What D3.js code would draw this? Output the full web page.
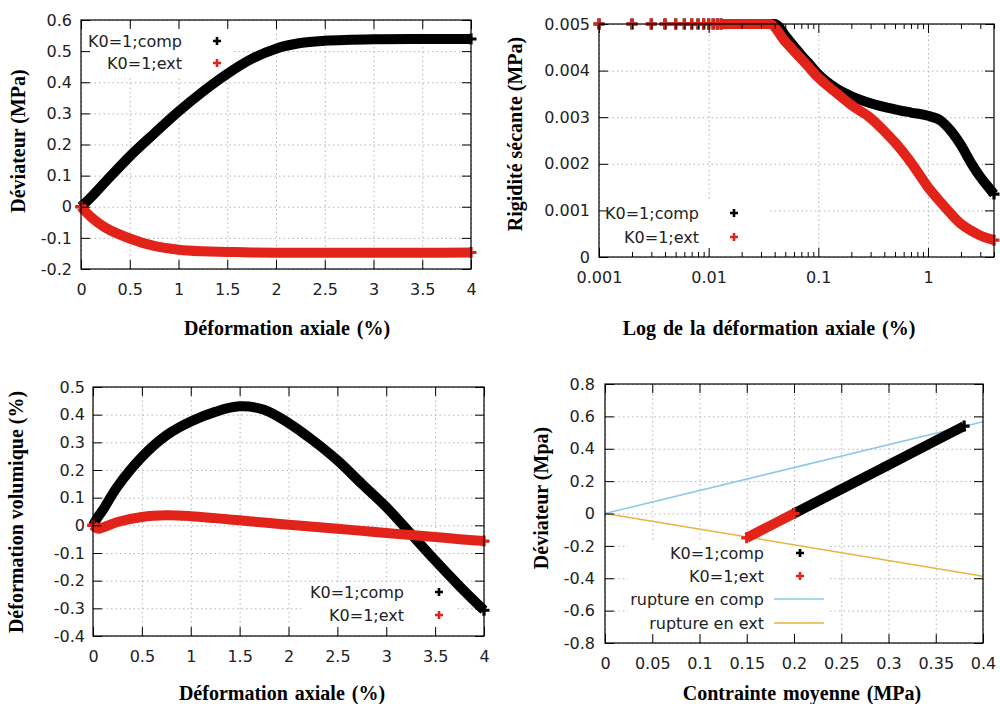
<!DOCTYPE html>
<html><head><meta charset="utf-8">
<script src="https://cdn.jsdelivr.net/npm/d3@7"></script>
<style>body{margin:0;background:#fff} svg{display:block}</style>
</head><body><svg id="c" width="1000" height="704"></svg>
<script>
// ---------- DATA ----------
// Panel 1 : Déviateur vs déformation axiale
const devStrain = [0, 0.1, 0.25, 0.5, 0.75, 1, 1.25, 1.5, 1.75, 2, 2.25, 2.5, 3, 3.5, 4];
const devComp   = [0, 0.03, 0.08, 0.162, 0.235, 0.306, 0.37, 0.427, 0.475, 0.508, 0.526, 0.533, 0.538, 0.539, 0.539];
const devExt    = [0, -0.032, -0.067, -0.102, -0.126, -0.138, -0.143, -0.145, -0.147, -0.148, -0.148, -0.148, -0.148, -0.148, -0.147];
const devXTicks = [0, 0.5, 1, 1.5, 2, 2.5, 3, 3.5, 4];
const devXLabels = ["0", "0.5", "1", "1.5", "2", "2.5", "3", "3.5", "4"];
const devYTicks = [-0.2, -0.1, 0, 0.1, 0.2, 0.3, 0.4, 0.5, 0.6];
const devYLabels = ["-0.2", "-0.1", "0", "0.1", "0.2", "0.3", "0.4", "0.5", "0.6"];

// Panel 2 : Rigidité sécante vs log déformation axiale
const stiffSparseStrain = [0.001, 0.002, 0.003, 0.004, 0.005, 0.006, 0.007, 0.008, 0.009, 0.01, 0.011, 0.012];
const stiffSparse       = [0.005, 0.005, 0.005, 0.005, 0.005, 0.005, 0.005, 0.005, 0.005, 0.005, 0.005, 0.005];
const stiffCompStrain = [0.013, 0.02, 0.03, 0.04, 0.05, 0.06, 0.07, 0.08, 0.1, 0.15, 0.2, 0.3, 0.5, 0.7, 1, 1.3, 1.6, 2, 2.5, 3, 3.5, 4];
const stiffComp       = [0.005, 0.005, 0.005, 0.005, 0.00475, 0.00452, 0.00433, 0.00418, 0.00392, 0.0036, 0.00345, 0.0033, 0.00317, 0.0031, 0.00303, 0.00293, 0.00272, 0.0024, 0.002, 0.00172, 0.00152, 0.00135];
const stiffExtStrain = [0.013, 0.02, 0.03, 0.036, 0.05, 0.06, 0.07, 0.08, 0.1, 0.15, 0.2, 0.3, 0.4, 0.5, 0.7, 1, 1.3, 1.6, 2, 2.5, 3, 3.5, 4];
const stiffExt       = [0.005, 0.005, 0.005, 0.005, 0.00462, 0.00442, 0.00425, 0.0041, 0.00385, 0.0035, 0.00326, 0.00298, 0.0027, 0.00246, 0.00203, 0.0015, 0.00118, 0.00094, 0.00071, 0.00056, 0.00046, 0.0004, 0.00036];
const stiffXTicks = [0.001, 0.01, 0.1, 1];
const stiffXLabels = ["0.001", "0.01", "0.1", "1"];
const stiffXMinor = [0.002,0.003,0.004,0.005,0.006,0.007,0.008,0.009,0.02,0.03,0.04,0.05,0.06,0.07,0.08,0.09,0.2,0.3,0.4,0.5,0.6,0.7,0.8,0.9,2,3,4];
const stiffYTicks = [0, 0.001, 0.002, 0.003, 0.004, 0.005];
const stiffYLabels = ["0", "0.001", "0.002", "0.003", "0.004", "0.005"];

// Panel 3 : Déformation volumique vs déformation axiale
const volStrain = [0, 0.05, 0.1, 0.25, 0.5, 0.75, 1, 1.25, 1.5, 1.75, 2, 2.25, 2.5, 2.75, 3, 3.25, 3.5, 3.75, 4];
const volComp   = [0, 0.03, 0.055, 0.14, 0.247, 0.325, 0.375, 0.41, 0.43, 0.418, 0.37, 0.307, 0.235, 0.15, 0.066, -0.03, -0.127, -0.22, -0.307];
const volExt    = [0, -0.012, -0.008, 0.012, 0.03, 0.036, 0.033, 0.026, 0.018, 0.01, 0.002, -0.005, -0.012, -0.02, -0.028, -0.035, -0.042, -0.05, -0.057];
const volXTicks = [0, 0.5, 1, 1.5, 2, 2.5, 3, 3.5, 4];
const volXLabels = ["0", "0.5", "1", "1.5", "2", "2.5", "3", "3.5", "4"];
const volYTicks = [-0.4, -0.3, -0.2, -0.1, 0, 0.1, 0.2, 0.3, 0.4, 0.5];
const volYLabels = ["-0.4", "-0.3", "-0.2", "-0.1", "0", "0.1", "0.2", "0.3", "0.4", "0.5"];

// Panel 4 : Déviateur vs contrainte moyenne
const pathCompP = [0.2, 0.25, 0.3, 0.35, 0.38];
const pathCompQ = [0, 0.15, 0.3, 0.45, 0.54];
const pathExtP  = [0.2, 0.175, 0.15];
const pathExtQ  = [0, -0.075, -0.15];
const ruptCompP = [0, 0.4];
const ruptCompQ = [0, 0.567];
const ruptExtP  = [0, 0.4];
const ruptExtQ  = [0, -0.387];
const pqXTicks = [0, 0.05, 0.1, 0.15, 0.2, 0.25, 0.3, 0.35, 0.4];
const pqXLabels = ["0", "0.05", "0.1", "0.15", "0.2", "0.25", "0.3", "0.35", "0.4"];
const pqYTicks = [-0.8, -0.6, -0.4, -0.2, 0, 0.2, 0.4, 0.6, 0.8];
const pqYLabels = ["-0.8", "-0.6", "-0.4", "-0.2", "0", "0.2", "0.4", "0.6", "0.8"];

const legendSeries = ["K0=1;comp", "K0=1;ext"];
const legendRupture = ["rupture en comp", "rupture en ext"];

// ---------- DRAWING ----------
const RED = "#e2231a", BLACK = "#000", BLUE = "#8cc9e4", ORANGE = "#e6b443";
const svg = d3.select("#c");
const TICK_FONT = "DejaVu Sans, Verdana, sans-serif";
const TITLE_FONT = "Liberation Serif, Times New Roman, serif";
const plus = s => `M${-s},0H${s}M0,${-s}V${s}`;

function zip(a, b) { return a.map((v, i) => [v, b[i]]); }

function panel(o) {
  const g = svg.append("g");
  const x = o.x, y = o.y;
  const [x0, x1] = x.range(), [y1, y0] = y.range();
  const w = x1 - x0, h = y1 - y0;
  const grid = g.append("g").attr("class", "grid");
  grid.append("g").attr("transform", `translate(0,${y1})`)
    .call(d3.axisBottom(x).tickValues(o.xTicks).tickSize(-h).tickFormat(""));
  grid.append("g").attr("transform", `translate(${x0},0)`)
    .call(d3.axisLeft(y).tickValues(o.yTicks).tickSize(-w).tickFormat(""));
  grid.selectAll(".domain").remove();
  grid.selectAll("line").attr("stroke", "#b4b4b4").attr("stroke-width", 1).attr("stroke-dasharray", "1.5,3");
  if (o.legendBox) {
    const b = o.legendBox;
    g.append("rect").attr("x", b[0]).attr("y", b[1]).attr("width", b[2]).attr("height", b[3]).attr("fill", "#fff");
  }
  const data = g.append("g");
  const ax = g.append("g");
  ax.append("g").attr("transform", `translate(0,${y1})`)
    .call(d3.axisBottom(x).tickValues(o.xTicks).tickFormat(d => o.xLabels[o.xTicks.indexOf(d)]).tickSize(-9).tickPadding(15));
  ax.append("g").attr("transform", `translate(0,${y0})`)
    .call(d3.axisTop(x).tickValues(o.xTicks).tickFormat("").tickSize(-9));
  ax.append("g").attr("transform", `translate(${x0},0)`)
    .call(d3.axisLeft(y).tickValues(o.yTicks).tickFormat(d => o.yLabels[o.yTicks.indexOf(d)]).tickSize(-9).tickPadding(o.yPad || 9));
  ax.append("g").attr("transform", `translate(${x1},0)`)
    .call(d3.axisRight(y).tickValues(o.yTicks).tickFormat("").tickSize(-9));
  if (o.xMinor) {
    ax.append("g").attr("transform", `translate(0,${y1})`)
      .call(d3.axisBottom(x).tickValues(o.xMinor).tickFormat("").tickSize(-5));
    ax.append("g").attr("transform", `translate(0,${y0})`)
      .call(d3.axisTop(x).tickValues(o.xMinor).tickFormat("").tickSize(-5));
  }
  ax.selectAll(".domain").remove();
  ax.selectAll("line").attr("stroke", "#000").attr("stroke-width", 1);
  ax.selectAll("text").attr("font-family", TICK_FONT).attr("font-size", 16).attr("fill", "#222");
  ax.append("rect").attr("x", x0).attr("y", y0).attr("width", w).attr("height", h)
    .attr("fill", "none").attr("stroke", "#000").attr("stroke-width", 1.2);
  g.append("text").attr("x", o.xTitlePos[0]).attr("y", o.xTitlePos[1])
    .attr("text-anchor", "middle").attr("dominant-baseline", "central")
    .attr("font-family", TITLE_FONT).attr("font-weight", "bold").attr("font-size", 20).attr("word-spacing", 2)
    .text(o.xTitle);
  g.append("text").attr("transform", `translate(${o.yTitlePos[0]},${o.yTitlePos[1]}) rotate(-90)`)
    .attr("text-anchor", "middle").attr("dominant-baseline", "central")
    .attr("font-family", TITLE_FONT).attr("font-weight", "bold").attr("font-size", 20)
    .text(o.yTitle);
  return { g, data, x, y };
}

function band(p, pts, color, curve) {
  const line = d3.line().x(d => p.x(d[0])).y(d => p.y(d[1])).curve(curve || d3.curveCatmullRom.alpha(0.5));
  p.data.append("path").datum(pts).attr("d", line).attr("fill", "none")
    .attr("stroke", color).attr("stroke-width", 10).attr("stroke-linejoin", "round");
  markers(p, [pts[0], pts[pts.length - 1]], color);
}
function markers(p, pts, color) {
  p.data.selectAll(null).data(pts).enter().append("path")
    .attr("transform", d => `translate(${p.x(d[0])},${p.y(d[1])})`)
    .attr("d", plus(5.5)).attr("stroke", color).attr("stroke-width", 3.2).attr("fill", "none");
}
function thin(p, pts, color) {
  const line = d3.line().x(d => p.x(d[0])).y(d => p.y(d[1]));
  p.data.append("path").datum(pts).attr("d", line).attr("fill", "none")
    .attr("stroke", color).attr("stroke-width", 1.5);
}
function legend(p, items, xText, xMark, ys) {
  items.forEach((it, i) => {
    p.g.append("text").attr("x", xText).attr("y", ys[i]).attr("text-anchor", "end")
      .attr("dominant-baseline", "central").attr("font-family", TICK_FONT).attr("font-size", 16)
      .attr("fill", "#222").text(it.label);
    if (it.type === "line") {
      p.g.append("line").attr("x1", xMark - 26).attr("x2", xMark + 24).attr("y1", ys[i]).attr("y2", ys[i])
        .attr("stroke", it.color).attr("stroke-width", 1.5);
    } else {
      p.g.append("path").attr("transform", `translate(${xMark},${ys[i]})`).attr("d", plus(4))
        .attr("stroke", it.color).attr("stroke-width", 2.6).attr("fill", "none");
    }
  });
}

// Panel 1
const p1 = panel({
  x: d3.scaleLinear().domain([0, 4]).range([81, 471]),
  y: d3.scaleLinear().domain([-0.2, 0.6]).range([269, 20]),
  xTicks: devXTicks, xLabels: devXLabels, yTicks: devYTicks, yLabels: devYLabels,
  xTitle: "Déformation axiale (%)", yTitle: "Déviateur (MPa)",
  xTitlePos: [287, 328], yTitlePos: [18, 141], legendBox: [82, 28, 150, 48]
});
band(p1, zip(devStrain, devComp), BLACK);
band(p1, zip(devStrain, devExt), RED);
legend(p1, [{label: legendSeries[0], color: BLACK}, {label: legendSeries[1], color: RED}], 182, 217, [41, 63]);

// Panel 2
const p2 = panel({
  x: d3.scaleLog().domain([0.001, 4]).range([599, 994]),
  y: d3.scaleLinear().domain([0, 0.005]).range([257, 24]),
  xTicks: stiffXTicks, xLabels: stiffXLabels, yTicks: stiffYTicks, yLabels: stiffYLabels, xMinor: stiffXMinor,
  xTitle: "Log de la déformation axiale (%)", yTitle: "Rigidité sécante (MPa)",
  xTitlePos: [769, 328], yTitlePos: [515, 134], legendBox: [600, 200, 168, 50]
});
markers(p2, zip(stiffSparseStrain, stiffSparse), BLACK);
band(p2, zip(stiffCompStrain, stiffComp), BLACK, d3.curveMonotoneX);
markers(p2, zip(stiffSparseStrain, stiffSparse), RED);
band(p2, zip(stiffExtStrain, stiffExt), RED, d3.curveMonotoneX);
legend(p2, [{label: legendSeries[0], color: BLACK}, {label: legendSeries[1], color: RED}], 699, 734, [213, 237]);

// Panel 3
const p3 = panel({
  x: d3.scaleLinear().domain([0, 4]).range([93, 484]),
  y: d3.scaleLinear().domain([-0.4, 0.5]).range([636, 387]),
  xTicks: volXTicks, xLabels: volXLabels, yTicks: volYTicks, yLabels: volYLabels, yPad: 8,
  xTitle: "Déformation axiale (%)", yTitle: "Déformation volumique (%)",
  xTitlePos: [282, 693], yTitlePos: [16, 512], legendBox: [303, 582, 152, 45]
});
band(p3, zip(volStrain, volComp), BLACK);
band(p3, zip(volStrain, volExt), RED);
legend(p3, [{label: legendSeries[0], color: BLACK}, {label: legendSeries[1], color: RED}], 404, 439, [592, 615]);

// Panel 4
const p4 = panel({
  x: d3.scaleLinear().domain([0, 0.4]).range([605, 983]),
  y: d3.scaleLinear().domain([-0.8, 0.8]).range([643, 384]),
  xTicks: pqXTicks, xLabels: pqXLabels, yTicks: pqYTicks, yLabels: pqYLabels, yPad: 10,
  xTitle: "Contrainte moyenne (MPa)", yTitle: "Déviateur (Mpa)",
  xTitlePos: [802, 693], yTitlePos: [541, 498], legendBox: [628, 541, 202, 94]
});
thin(p4, zip(ruptCompP, ruptCompQ), BLUE);
thin(p4, zip(ruptExtP, ruptExtQ), ORANGE);
band(p4, zip(pathCompP, pathCompQ), BLACK, d3.curveLinear);
band(p4, zip(pathExtP, pathExtQ), RED, d3.curveLinear);
legend(p4, [
  {label: legendSeries[0], color: BLACK},
  {label: legendSeries[1], color: RED},
  {label: legendRupture[0], color: BLUE, type: "line"},
  {label: legendRupture[1], color: ORANGE, type: "line"}
], 764, 800, [553, 576, 599, 623]);
</script>
</body></html>
